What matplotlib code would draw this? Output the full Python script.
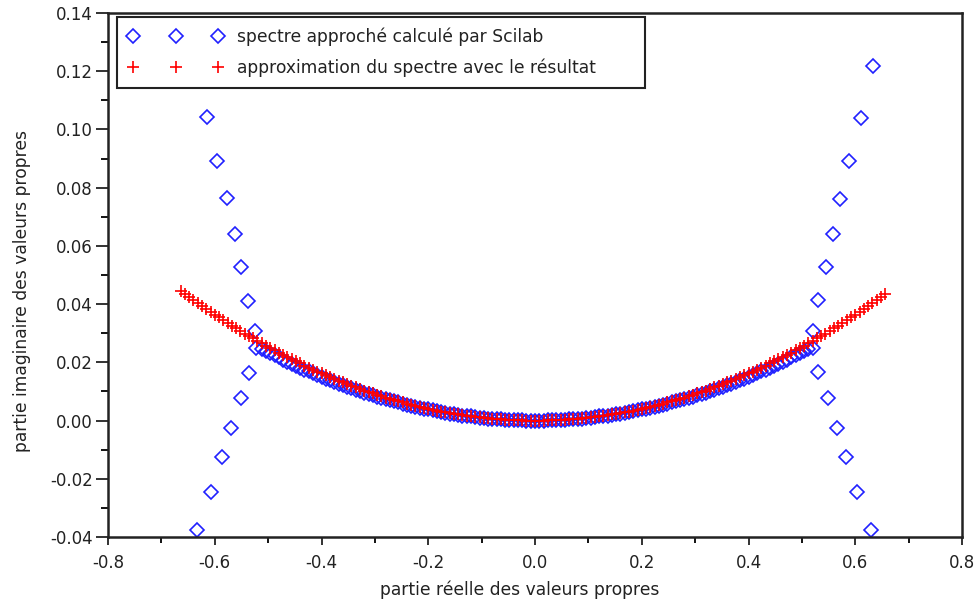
import matplotlib
matplotlib.use("Agg")
import matplotlib.pyplot as plt

# spectre approché (Scilab) : branches extérieures
blue_out_x = [-0.614, -0.595, -0.578, -0.563, -0.550, -0.537, -0.524, -0.522,
              -0.535, -0.550, -0.569, -0.586, -0.608, -0.634,
              0.634, 0.610, 0.589, 0.572, 0.558, 0.545, 0.530, 0.520,
              0.520, 0.530, 0.548, 0.565, 0.582, 0.603, 0.630]
blue_out_y = [0.1042, 0.0893, 0.0763, 0.0642, 0.0526, 0.0412, 0.0308, 0.0250,
              0.0165, 0.0079, -0.0025, -0.0125, -0.0245, -0.0376,
              0.1217, 0.1038, 0.0893, 0.0760, 0.0642, 0.0527, 0.0413, 0.0309,
              0.0249, 0.0167, 0.0077, -0.0024, -0.0124, -0.0246, -0.0376]

# spectre approché (Scilab) : partie centrale
blue_c_x = [-0.512, -0.504, -0.496, -0.488, -0.480, -0.472, -0.464, -0.456, -0.448, -0.440,
            -0.432, -0.424, -0.416, -0.408, -0.400, -0.392, -0.384, -0.376, -0.368, -0.360,
            -0.352, -0.344, -0.336, -0.328, -0.320, -0.312, -0.304, -0.296, -0.288, -0.280,
            -0.272, -0.264, -0.256, -0.248, -0.240, -0.232, -0.224, -0.216, -0.208, -0.200,
            -0.192, -0.184, -0.176, -0.168, -0.160, -0.152, -0.144, -0.136, -0.128, -0.120,
            -0.112, -0.104, -0.096, -0.088, -0.080, -0.072, -0.064, -0.056, -0.048, -0.040,
            -0.032, -0.024, -0.016, -0.008, 0.000, 0.008, 0.016, 0.024, 0.032, 0.040,
            0.048, 0.056, 0.064, 0.072, 0.080, 0.088, 0.096, 0.104, 0.112, 0.120,
            0.128, 0.136, 0.144, 0.152, 0.160, 0.168, 0.176, 0.184, 0.192, 0.200,
            0.208, 0.216, 0.224, 0.232, 0.240, 0.248, 0.256, 0.264, 0.272, 0.280,
            0.288, 0.296, 0.304, 0.312, 0.320, 0.328, 0.336, 0.344, 0.352, 0.360,
            0.368, 0.376, 0.384, 0.392, 0.400, 0.408, 0.416, 0.424, 0.432, 0.440,
            0.448, 0.456, 0.464, 0.472, 0.480, 0.488, 0.496, 0.504, 0.512]
blue_c_y = [0.0246, 0.0239, 0.0231, 0.0224, 0.0217, 0.0209, 0.0202, 0.0195, 0.0189, 0.0182,
            0.0175, 0.0169, 0.0163, 0.0156, 0.0150, 0.0144, 0.0139, 0.0133, 0.0127, 0.0122,
            0.0116, 0.0111, 0.0106, 0.0101, 0.0096, 0.0092, 0.0087, 0.0082, 0.0078, 0.0074,
            0.0070, 0.0066, 0.0062, 0.0058, 0.0054, 0.0051, 0.0047, 0.0044, 0.0041, 0.0038,
            0.0035, 0.0032, 0.0029, 0.0027, 0.0024, 0.0022, 0.0019, 0.0017, 0.0015, 0.0014,
            0.0012, 0.0010, 0.0009, 0.0007, 0.0006, 0.0005, 0.0004, 0.0003, 0.0002, 0.0002,
            0.0001, 0.0001, 0.0000, 0.0000, 0.0000, 0.0000, 0.0000, 0.0001, 0.0001, 0.0002,
            0.0002, 0.0003, 0.0004, 0.0005, 0.0006, 0.0007, 0.0009, 0.0010, 0.0012, 0.0014,
            0.0015, 0.0017, 0.0019, 0.0022, 0.0024, 0.0027, 0.0029, 0.0032, 0.0035, 0.0038,
            0.0041, 0.0044, 0.0047, 0.0051, 0.0054, 0.0058, 0.0062, 0.0066, 0.0070, 0.0074,
            0.0078, 0.0082, 0.0087, 0.0092, 0.0096, 0.0101, 0.0106, 0.0111, 0.0116, 0.0122,
            0.0127, 0.0133, 0.0139, 0.0144, 0.0150, 0.0156, 0.0163, 0.0169, 0.0175, 0.0182,
            0.0189, 0.0195, 0.0202, 0.0209, 0.0217, 0.0224, 0.0231, 0.0239, 0.0246]

# approximation du spectre avec le résultat
red_x = [-0.664, -0.656, -0.648, -0.640, -0.632, -0.624, -0.616, -0.608, -0.600, -0.592,
         -0.584, -0.576, -0.568, -0.560, -0.552, -0.544, -0.536, -0.528, -0.520, -0.512,
         -0.504, -0.496, -0.488, -0.480, -0.472, -0.464, -0.456, -0.448, -0.440, -0.432,
         -0.424, -0.416, -0.408, -0.400, -0.392, -0.384, -0.376, -0.368, -0.360, -0.352,
         -0.344, -0.336, -0.328, -0.320, -0.312, -0.304, -0.296, -0.288, -0.280, -0.272,
         -0.264, -0.256, -0.248, -0.240, -0.232, -0.224, -0.216, -0.208, -0.200, -0.192,
         -0.184, -0.176, -0.168, -0.160, -0.152, -0.144, -0.136, -0.128, -0.120, -0.112,
         -0.104, -0.096, -0.088, -0.080, -0.072, -0.064, -0.056, -0.048, -0.040, -0.032,
         -0.024, -0.016, -0.008, 0.000, 0.008, 0.016, 0.024, 0.032, 0.040, 0.048,
         0.056, 0.064, 0.072, 0.080, 0.088, 0.096, 0.104, 0.112, 0.120, 0.128,
         0.136, 0.144, 0.152, 0.160, 0.168, 0.176, 0.184, 0.192, 0.200, 0.208,
         0.216, 0.224, 0.232, 0.240, 0.248, 0.256, 0.264, 0.272, 0.280, 0.288,
         0.296, 0.304, 0.312, 0.320, 0.328, 0.336, 0.344, 0.352, 0.360, 0.368,
         0.376, 0.384, 0.392, 0.400, 0.408, 0.416, 0.424, 0.432, 0.440, 0.448,
         0.456, 0.464, 0.472, 0.480, 0.488, 0.496, 0.504, 0.512, 0.520, 0.528,
         0.536, 0.544, 0.552, 0.560, 0.568, 0.576, 0.584, 0.592, 0.600, 0.608,
         0.616, 0.624, 0.632, 0.640, 0.648, 0.656]
red_y = [0.0445, 0.0435, 0.0424, 0.0414, 0.0403, 0.0393, 0.0383, 0.0373, 0.0364, 0.0354,
         0.0344, 0.0335, 0.0326, 0.0317, 0.0308, 0.0299, 0.0290, 0.0282, 0.0273, 0.0265,
         0.0257, 0.0248, 0.0241, 0.0233, 0.0225, 0.0217, 0.0210, 0.0203, 0.0196, 0.0188,
         0.0182, 0.0175, 0.0168, 0.0162, 0.0155, 0.0149, 0.0143, 0.0137, 0.0131, 0.0125,
         0.0120, 0.0114, 0.0109, 0.0103, 0.0098, 0.0093, 0.0088, 0.0084, 0.0079, 0.0075,
         0.0070, 0.0066, 0.0062, 0.0058, 0.0054, 0.0051, 0.0047, 0.0044, 0.0040, 0.0037,
         0.0034, 0.0031, 0.0029, 0.0026, 0.0023, 0.0021, 0.0019, 0.0017, 0.0015, 0.0013,
         0.0011, 0.0009, 0.0008, 0.0006, 0.0005, 0.0004, 0.0003, 0.0002, 0.0002, 0.0001,
         0.0001, 0.0000, 0.0000, 0.0000, 0.0000, 0.0000, 0.0001, 0.0001, 0.0002, 0.0002,
         0.0003, 0.0004, 0.0005, 0.0006, 0.0008, 0.0009, 0.0011, 0.0013, 0.0015, 0.0017,
         0.0019, 0.0021, 0.0023, 0.0026, 0.0029, 0.0031, 0.0034, 0.0037, 0.0040, 0.0044,
         0.0047, 0.0051, 0.0054, 0.0058, 0.0062, 0.0066, 0.0070, 0.0075, 0.0079, 0.0084,
         0.0088, 0.0093, 0.0098, 0.0103, 0.0109, 0.0114, 0.0120, 0.0125, 0.0131, 0.0137,
         0.0143, 0.0149, 0.0155, 0.0162, 0.0168, 0.0175, 0.0182, 0.0188, 0.0196, 0.0203,
         0.0210, 0.0217, 0.0225, 0.0233, 0.0241, 0.0248, 0.0257, 0.0265, 0.0273, 0.0282,
         0.0290, 0.0299, 0.0308, 0.0317, 0.0326, 0.0335, 0.0344, 0.0354, 0.0364, 0.0373,
         0.0383, 0.0393, 0.0403, 0.0414, 0.0424, 0.0435]

x_ticks = [-0.8, -0.6, -0.4, -0.2, 0.0, 0.2, 0.4, 0.6, 0.8]
y_ticks = [-0.04, -0.02, 0.00, 0.02, 0.04, 0.06, 0.08, 0.10, 0.12, 0.14]

blue = "#2020ff"
red = "#ff0000"
dark = "#222222"

fig = plt.figure(figsize=(9.75, 6.03), dpi=100)
ax = fig.add_axes([0.1108, 0.1095, 0.8759, 0.8689])

ax.plot(blue_c_x + blue_out_x, blue_c_y + blue_out_y, linestyle="none", marker="D",
        markersize=6.8, markerfacecolor="none", markeredgecolor=blue, markeredgewidth=1.2,
        label="spectre approché calculé par Scilab")
ax.plot(red_x, red_y, linestyle="none", marker="+", markersize=8.2,
        markeredgecolor=red, markeredgewidth=1.2,
        label="approximation du spectre avec le résultat")

ax.set_xlim(-0.8, 0.8)
ax.set_ylim(-0.04, 0.14)
ax.set_xticks(x_ticks)
ax.set_xticklabels([f"{v:.1f}" for v in x_ticks])
ax.set_yticks(y_ticks)
ax.set_yticklabels([f"{v:.2f}" for v in y_ticks])
ax.set_xticks([-0.7, -0.5, -0.3, -0.1, 0.1, 0.3, 0.5, 0.7], minor=True)
ax.set_yticks([-0.03, -0.01, 0.01, 0.03, 0.05, 0.07, 0.09, 0.11, 0.13], minor=True)
ax.tick_params(axis="x", which="major", direction="out", length=6, width=1.3, pad=6,
               labelsize=12, colors=dark, top=False)
ax.tick_params(axis="x", which="minor", direction="out", length=4, width=1.3, top=False)
ax.tick_params(axis="y", which="major", direction="out", length=9, width=1.3, pad=2,
               labelsize=12, colors=dark, right=False)
ax.tick_params(axis="y", which="minor", direction="out", length=5, width=1.3, right=False)
for s in ax.spines.values():
    s.set_linewidth(1.8)
    s.set_color(dark)

ax.set_xlabel("partie réelle des valeurs propres", fontsize=12.3, color=dark)
ax.set_ylabel("partie imaginaire des valeurs propres", fontsize=12.3, color=dark)
ax.xaxis.set_label_coords(0.482, -0.083)
ax.yaxis.set_label_coords(-0.09, 0.469)

leg = ax.legend(loc="upper left", bbox_to_anchor=(0.0105, 0.8645, 0.6183, 0.1279),
                mode="expand", borderaxespad=0, numpoints=3, fontsize=12.3,
                fancybox=False, framealpha=1, edgecolor=dark,
                handlelength=5.6, handletextpad=0.8, borderpad=0.63, labelspacing=0.72)
leg.get_frame().set_linewidth(1.5)
for t in leg.get_texts():
    t.set_color(dark)

fig.savefig("out.png", dpi=100)
